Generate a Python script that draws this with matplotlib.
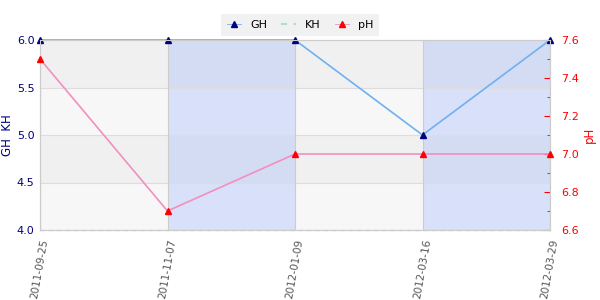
import matplotlib
matplotlib.use("Agg")
import matplotlib.pyplot as plt
from matplotlib.ticker import MultipleLocator, FormatStrFormatter
from matplotlib.lines import Line2D

dates = ["2011-09-25", "2011-11-07", "2012-01-09", "2012-03-16", "2012-03-29"]
gh = [6.0, 6.0, 6.0, 5.0, 6.0]
kh = [4.0, 4.0, 4.0, 4.0, 4.0]
ph = [7.5, 6.7, 7.0, 7.0, 7.0]

fig = plt.figure(figsize=(6, 3), dpi=100)
ax = fig.add_axes([40/600, 70/300, 510/600, 190/300])
ax2 = ax.twinx()

x = list(range(len(dates)))

# horizontal bands
band_cols = ["#f7f7f7", "#f0f0f0"]
yb = [4.0, 4.5, 5.0, 5.5, 6.0]
for i in range(len(yb) - 1):
    ax.axhspan(yb[i], yb[i + 1], color=band_cols[i % 2], zorder=0, lw=0)
# vertical blue bands
for i in range(1, len(dates) - 1, 2):
    ax.axvspan(x[i], x[i + 1], color=(0.60, 0.70, 1.0), alpha=0.32, zorder=0.5, lw=0)

for yv in yb[1:-1]:
    ax.axhline(yv, color="#dddddd", lw=0.8, zorder=1)
for xv in x:
    ax.axvline(xv, color="#cccccc", lw=0.8, zorder=1)

for sp in ["top", "bottom", "left", "right"]:
    ax.spines[sp].set_color("#cccccc")
    ax2.spines[sp].set_color("#cccccc")

ax.plot(x, kh, color="#a6e3cc", lw=1.0, ls=(0, (3, 3)), zorder=3, clip_on=False)
ax.plot(x, gh, color="#6fb0f2", lw=1.2, zorder=3, clip_on=False)
ax.plot(x, gh, ls="none", marker="^", ms=5, color="#000080", zorder=5, clip_on=False)
ax2.plot(x, ph, color="#f28fc0", lw=1.2, zorder=3, clip_on=False)
ax2.plot(x, ph, ls="none", marker="^", ms=5, color="#ff0000", zorder=5, clip_on=False)

ax.set_xlim(0, len(dates) - 1)
ax.set_ylim(4.0, 6.0)
ax2.set_ylim(6.6, 7.6)

ax.set_xticks(x)
ax.set_xticklabels(dates, rotation=80, ha="right", va="top", rotation_mode="anchor",
                   fontsize=7.5, color="#555555")
ax.tick_params(axis="x", length=0, pad=6)
ax.set_yticks(yb)
ax.yaxis.set_major_formatter(FormatStrFormatter("%.1f"))
ax.tick_params(axis="y", length=0, labelsize=8, labelcolor="#000080", pad=4)
ax.set_ylabel("GH  KH", color="#000080", fontsize=8.5, labelpad=2)

ax2.yaxis.set_major_locator(MultipleLocator(0.2))
ax2.yaxis.set_minor_locator(MultipleLocator(0.1))
ax2.yaxis.set_major_formatter(FormatStrFormatter("%.1f"))
ax2.tick_params(axis="y", which="major", direction="in", length=4, color="#ff0000",
                labelcolor="#ff0000", labelsize=8, pad=8)
ax2.tick_params(axis="y", which="minor", direction="in", length=2.5, color="#ff0000")
ax2.set_ylabel("pH", color="#ff0000", fontsize=8.5, labelpad=3)
ax2.patch.set_visible(False)
ax.set_zorder(0)
ax2.set_zorder(1)

handles = [
    Line2D([], [], color="#6fb0f2", lw=0.6, marker="^", ms=5, mfc="#000080", mec="#000080"),
    Line2D([], [], color="#a6e3cc", lw=1.5, ls=(0, (3, 3))),
    Line2D([], [], color="#f28fc0", lw=0.6, marker="^", ms=5, mfc="#ff0000", mec="#ff0000"),
]
leg = fig.legend(handles, ["GH", "KH", "pH"], loc="center", bbox_to_anchor=(300/600, 1 - 25/300),
                 ncol=3, frameon=True, fontsize=8, handlelength=1.3, columnspacing=1.3,
                 borderpad=0.5, fancybox=False)
leg.get_frame().set_facecolor("#eeeeee")
leg.get_frame().set_edgecolor("none")

fig.savefig("out.png", dpi=100)
